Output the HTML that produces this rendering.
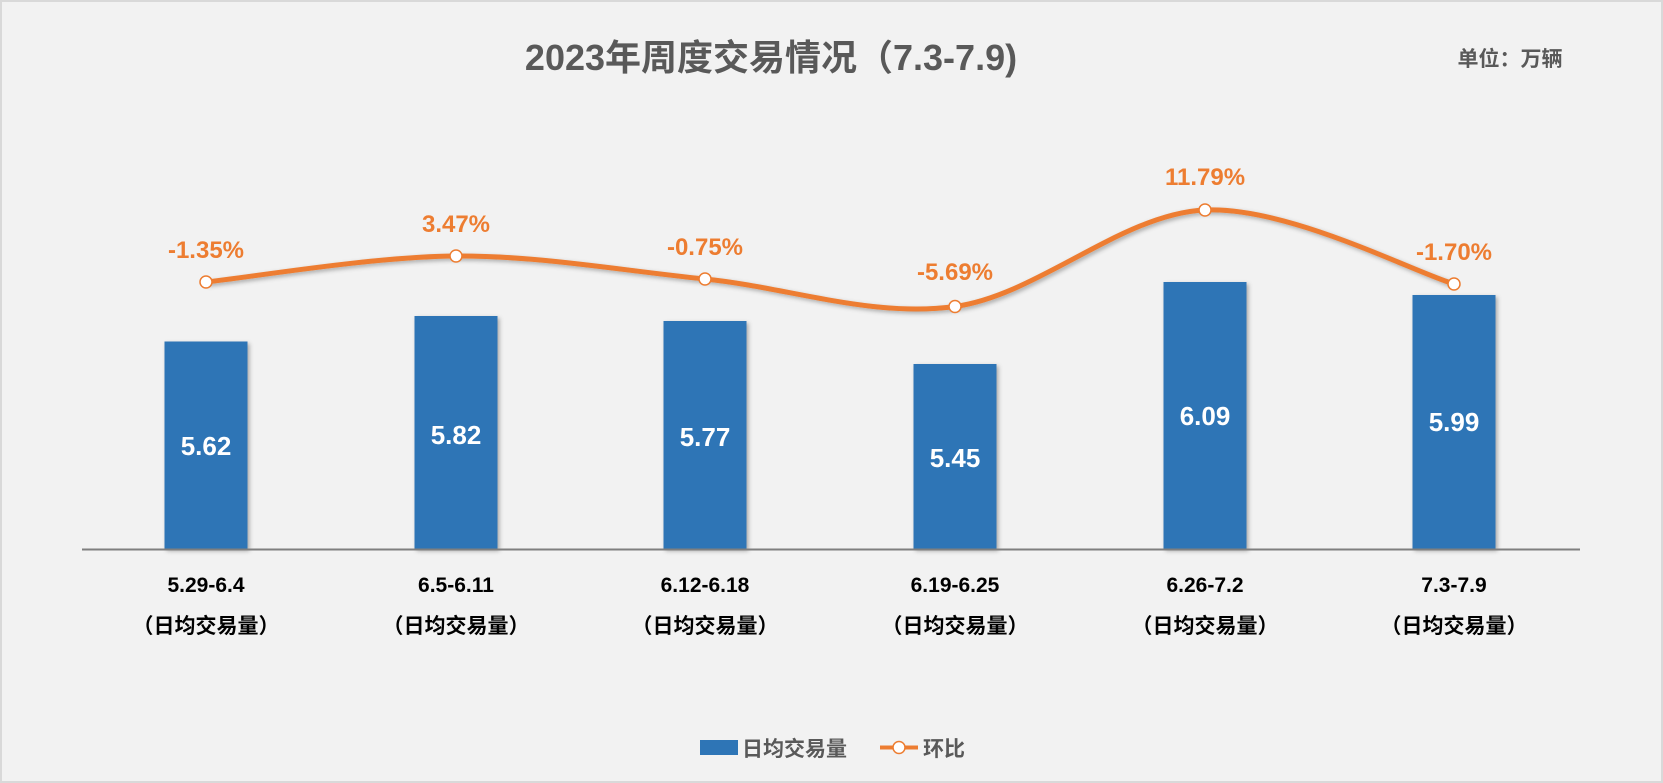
<!DOCTYPE html>
<html><head><meta charset="utf-8"><style>
html,body{margin:0;padding:0;}
body{width:1663px;height:783px;background:#fff;font-family:"Liberation Sans","Noto Sans CJK SC",sans-serif;}
</style></head><body>
<svg width="1663" height="783" xmlns="http://www.w3.org/2000/svg" style="display:block">
<defs><filter id="sh" x="-20%" y="-20%" width="140%" height="140%"><feDropShadow dx="2" dy="2" stdDeviation="2" flood-color="#000" flood-opacity="0.3"/></filter></defs>
<rect x="1" y="1" width="1661" height="781" fill="#f2f2f2" stroke="#d9d9d9" stroke-width="2"/>
<g font-family="Liberation Sans,Noto Sans CJK SC,sans-serif" font-weight="bold">
<text x="771" y="70" text-anchor="middle" font-size="36" fill="#595959">2023年周度交易情况（7.3-7.9)</text>
<text x="1510" y="66" text-anchor="middle" font-size="21" fill="#595959">单位：万辆</text>
<g fill="#2e75b6" filter="url(#sh)">
<rect x="164.5" y="341.5" width="83" height="207.5"/>
<rect x="414.5" y="316" width="83" height="233"/>
<rect x="663.5" y="321" width="83" height="228"/>
<rect x="913.5" y="364" width="83" height="185"/>
<rect x="1163.5" y="282" width="83" height="267"/>
<rect x="1412.5" y="295" width="83" height="254"/>
</g>
<line x1="82" y1="549.5" x2="1580" y2="549.5" stroke="#7f7f7f" stroke-width="2"/>
<g fill="#fff" font-size="26" text-anchor="middle">
<text x="206" y="455">5.62</text><text x="456" y="444">5.82</text><text x="705" y="446">5.77</text>
<text x="955" y="467">5.45</text><text x="1205" y="425">6.09</text><text x="1454" y="431">5.99</text>
</g>
<path d="M206,282 C247.7,277.7 372.8,256.5 456,256 C539.2,255.5 621.8,270.6 705,279 C788.2,287.4 871.7,318 955,306.5 C1038.3,295 1121.8,213.75 1205,210 C1288.2,206.25 1412.5,271.7 1454,284" fill="none" stroke="#ed7d31" stroke-width="5" filter="url(#sh)"/>
<g fill="#fff" stroke="#ed7d31" stroke-width="1.5">
<circle cx="206" cy="282" r="6"/><circle cx="456" cy="256" r="6"/><circle cx="705" cy="279" r="6"/>
<circle cx="955" cy="306.5" r="6"/><circle cx="1205" cy="210" r="6"/><circle cx="1454" cy="284" r="6"/>
</g>
<g fill="#ed7d31" font-size="24" text-anchor="middle">
<text x="206" y="258">-1.35%</text><text x="456" y="232">3.47%</text><text x="705" y="255">-0.75%</text>
<text x="955" y="280">-5.69%</text><text x="1205" y="185">11.79%</text><text x="1454" y="260">-1.70%</text>
</g>
<g fill="#000" font-size="21" text-anchor="middle">
<text x="206" y="592">5.29-6.4</text><text x="456" y="592">6.5-6.11</text><text x="705" y="592">6.12-6.18</text>
<text x="955" y="592">6.19-6.25</text><text x="1205" y="592">6.26-7.2</text><text x="1454" y="592">7.3-7.9</text>
<text x="206" y="633">（日均交易量）</text><text x="456" y="633">（日均交易量）</text><text x="705" y="633">（日均交易量）</text>
<text x="955" y="633">（日均交易量）</text><text x="1205" y="633">（日均交易量）</text><text x="1454" y="633">（日均交易量）</text>
</g>
<rect x="700" y="740" width="38" height="15" fill="#2e75b6"/>
<text x="742" y="756" font-size="21" fill="#595959">日均交易量</text>
<line x1="880" y1="747.5" x2="918" y2="747.5" stroke="#ed7d31" stroke-width="4"/>
<circle cx="899" cy="747.5" r="6" fill="#fff" stroke="#ed7d31" stroke-width="1.5"/>
<text x="923" y="756" font-size="21" fill="#595959">环比</text>
</g>
</svg>
</body></html>
